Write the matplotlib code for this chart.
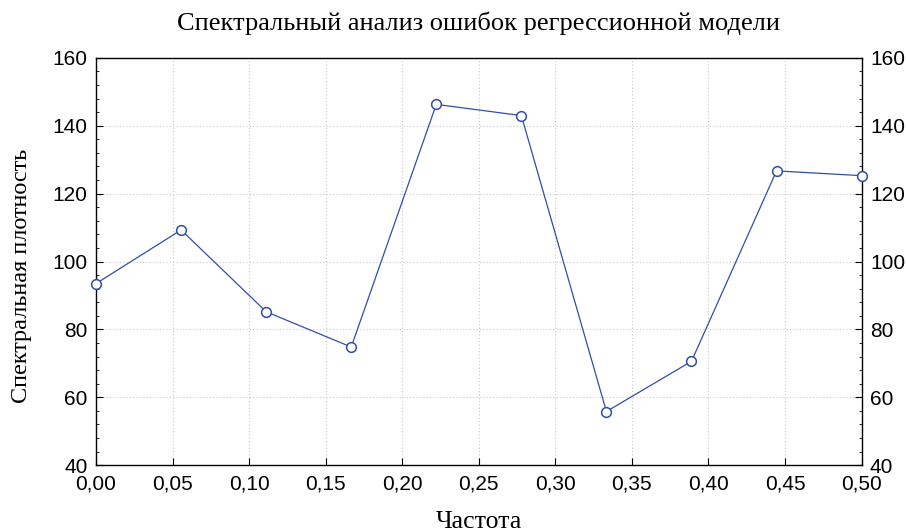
import numpy as np
import matplotlib
matplotlib.use("Agg")
import matplotlib.pyplot as plt
from matplotlib.ticker import MultipleLocator, FuncFormatter

# Spectral density of regression residuals at Fourier frequencies k/18
frequency = [0 / 18, 1 / 18, 2 / 18, 3 / 18, 4 / 18, 5 / 18, 6 / 18, 7 / 18, 8 / 18, 9 / 18]
density = [93.5, 109.3, 85.2, 74.8, 146.3, 143.0, 55.8, 70.6, 126.7, 125.3]

title = "Спектральный анализ ошибок регрессионной модели"
xlabel = "Частота"
ylabel = "Спектральная плотность"

serif = ["Liberation Serif", "DejaVu Serif"]
sans = ["Liberation Sans", "DejaVu Sans"]

fig = plt.figure(figsize=(9.06, 5.31), dpi=100)
ax = fig.add_axes([0.106, 0.124, 0.845, 0.767])

ax.plot(frequency, density, color="#2f4fa8", linewidth=0.9,
        marker="o", markersize=7, markerfacecolor="white",
        markeredgecolor="#2f4fa8", markeredgewidth=1.1, zorder=3,
        clip_on=False)

ax.set_xlim(0, 0.5)
ax.set_ylim(40, 160)
ax.xaxis.set_major_locator(MultipleLocator(0.05))
ax.yaxis.set_major_locator(MultipleLocator(20))
ax.yaxis.set_minor_locator(MultipleLocator(4))
ax.xaxis.set_major_formatter(FuncFormatter(lambda v, p: f"{v:.2f}".replace(".", ",")))
ax.yaxis.set_major_formatter(FuncFormatter(lambda v, p: f"{v:.0f}"))

ax.grid(True, which="major", color="#c8c8c8", linestyle=(0, (1, 2)), linewidth=0.8)
ax.tick_params(axis="both", which="major", direction="in", length=5, width=0.8,
               labelsize=15, right=True, labelright=True, top=False)
ax.tick_params(axis="y", which="minor", direction="in", length=2.5, width=0.6,
               right=True)
ax.tick_params(axis="x", which="major", pad=7)
ax.tick_params(axis="y", which="major", pad=6)
for t in ax.xaxis.get_major_ticks():
    t.label1.set_family(sans)
for t in ax.yaxis.get_major_ticks():
    t.label1.set_family(sans)
    t.label2.set_family(sans)
for sp in ax.spines.values():
    sp.set_linewidth(1.0)

ax.set_title(title, family=serif, fontsize=19, pad=20)
ax.set_xlabel(xlabel, family=serif, fontsize=18.5, labelpad=12)
ax.set_ylabel(ylabel, family=serif, fontsize=17.5)
ax.yaxis.set_label_coords(-0.084, 0.465)

fig.savefig("out.png", dpi=100)
